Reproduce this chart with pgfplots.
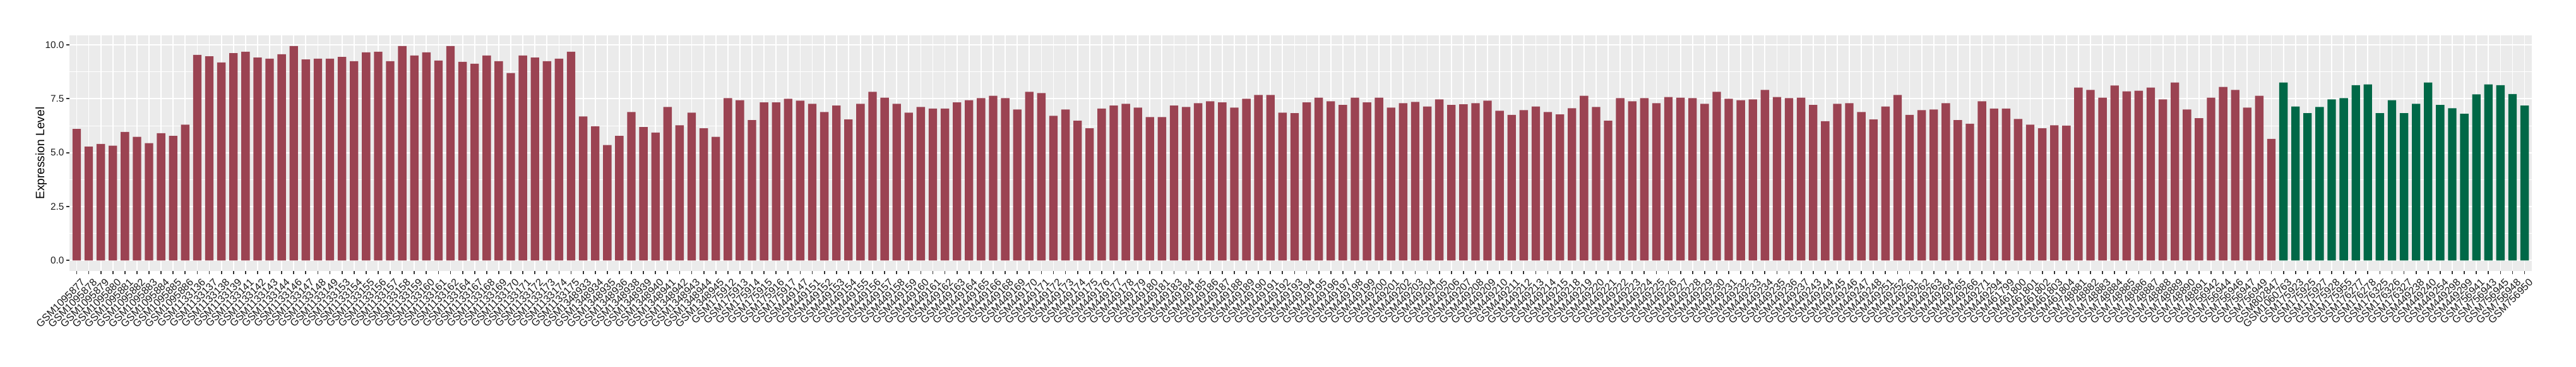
\documentclass[border=0pt]{standalone}
\usepackage{pgfplots}
\pgfplotsset{compat=1.18}
\usepackage{fontspec}
\setmainfont{Liberation Sans}
\definecolor{panelbg}{HTML}{EBEBEB}
\definecolor{barred}{HTML}{9B4352}
\definecolor{bargreen}{HTML}{006847}
\definecolor{grey20}{HTML}{333333}
\definecolor{txt}{HTML}{1A1A1A}
\begin{document}
\begin{tikzpicture}
\path[use as bounding box] (-66pt,-90.6pt) rectangle (2382pt,257.6pt);
\begin{axis}[
 at={(0,0)}, anchor=south west,
 scale only axis, width=2340pt, height=224pt,
 xmin=-0.6, xmax=203.6, ymin=-0.497, ymax=10.437,
 axis background/.style={fill=panelbg},
 axis line style={draw=none},
 xmajorgrids, ymajorgrids, yminorgrids,
 major grid style={white, line width=1.07pt},
 minor grid style={white, line width=0.53pt},
 tick style={grey20, line width=1.07pt},
 tick align=outside, major tick length=2.75pt, minor tick length=0pt,
 tick pos=left,
 ytick={0,2.5,5,7.5,10},
 yticklabels={0.0,2.5,5.0,7.5,10.0},
 minor ytick={1.25,3.75,6.25,8.75},
 yticklabel style={font=\fontsize{9.2}{10}\selectfont, text=txt, inner sep=2.2pt},
 xtick={0,...,203},
 xticklabel style={rotate=45, anchor=north east, font=\fontsize{9.8}{11}\selectfont, text=txt, inner sep=0pt, yshift=-5pt},
 xticklabels={GSM1095877,GSM1095878,GSM1095879,GSM1095880,GSM1095881,GSM1095882,GSM1095883,GSM1095884,GSM1095885,GSM1095886,
GSM1133136,GSM1133137,GSM1133138,GSM1133139,GSM1133141,GSM1133142,GSM1133143,GSM1133144,GSM1133146,GSM1133147,GSM1133148,GSM1133149,GSM1133153,GSM1133154,GSM1133155,GSM1133156,GSM1133157,GSM1133158,GSM1133159,GSM1133160,GSM1133161,GSM1133162,GSM1133164,GSM1133167,GSM1133168,GSM1133169,GSM1133170,GSM1133171,GSM1133172,GSM1133173,GSM1133174,GSM1133175,
GSM1348933,GSM1348934,GSM1348935,GSM1348936,GSM1348938,GSM1348939,GSM1348940,GSM1348941,GSM1348942,GSM1348943,GSM1348944,GSM1348945,
GSM175912,GSM175913,GSM175914,GSM175915,GSM175916,GSM175917,
GSM449147,GSM449151,GSM449152,GSM449153,GSM449154,GSM449155,GSM449156,GSM449157,GSM449158,GSM449159,GSM449160,GSM449161,GSM449162,GSM449163,GSM449164,GSM449165,GSM449166,GSM449168,GSM449169,GSM449170,GSM449171,GSM449172,GSM449173,GSM449174,GSM449175,GSM449176,GSM449177,GSM449178,GSM449179,GSM449180,GSM449181,GSM449183,GSM449184,GSM449185,GSM449186,GSM449187,GSM449188,GSM449189,GSM449190,GSM449191,GSM449192,GSM449193,GSM449194,GSM449195,GSM449196,GSM449197,GSM449198,GSM449199,GSM449200,GSM449201,GSM449202,GSM449203,GSM449204,GSM449205,GSM449206,GSM449207,GSM449208,GSM449209,GSM449210,GSM449211,GSM449212,GSM449213,GSM449214,GSM449215,GSM449218,GSM449219,GSM449220,GSM449221,GSM449222,GSM449223,GSM449224,GSM449225,GSM449226,GSM449227,GSM449228,GSM449229,GSM449230,GSM449231,GSM449232,GSM449233,GSM449234,GSM449235,GSM449236,GSM449237,GSM449243,GSM449244,GSM449245,GSM449246,GSM449247,GSM449248,GSM449251,GSM449252,GSM449261,GSM449262,GSM449263,GSM449264,GSM449265,GSM449266,GSM449271,GSM449294,
GSM461799,GSM461800,GSM461801,GSM461802,GSM461803,GSM461804,
GSM748881,GSM748882,GSM748883,GSM748884,GSM748885,GSM748886,GSM748887,GSM748888,GSM748889,GSM748890,GSM748891,
GSM756942,GSM756944,GSM756946,GSM756947,GSM756949,GSM802847,
GSM1060763,GSM175923,GSM175925,GSM175927,GSM175928,GSM175955,GSM176277,GSM176278,GSM176325,GSM176326,GSM176327,GSM449238,GSM449240,GSM449254,GSM449298,GSM449299,GSM756941,GSM756943,GSM756945,GSM756948,GSM756950},
 ylabel={Expression Level},
 every axis y label/.style={at={(axis description cs:-0.0115,0.5)}, rotate=90, anchor=center, font=\fontsize{11.5}{13}\selectfont},
]
\addplot[ybar, bar width=0.7, bar shift=0pt, fill=barred, draw=none] coordinates {
(0,6.10)(1,5.28)(2,5.40)(3,5.32)(4,5.96)(5,5.73)(6,5.44)(7,5.90)(8,5.78)(9,6.30)
(10,9.53)(11,9.47)(12,9.18)(13,9.61)(14,9.68)(15,9.41)(16,9.36)(17,9.56)(18,9.94)(19,9.32)
(20,9.36)(21,9.36)(22,9.44)(23,9.24)(24,9.65)(25,9.68)(26,9.24)(27,9.94)(28,9.50)(29,9.65)
(30,9.27)(31,9.94)(32,9.21)(33,9.12)(34,9.50)(35,9.24)(36,8.69)(37,9.50)(38,9.41)(39,9.24)
(40,9.36)(41,9.68)(42,6.68)(43,6.22)(44,5.35)(45,5.78)(46,6.88)(47,6.19)(48,5.93)(49,7.12)
(50,6.27)(51,6.85)(52,6.13)(53,5.73)(54,7.53)(55,7.43)(56,6.51)(57,7.33)(58,7.33)(59,7.50)
(60,7.41)(61,7.26)(62,6.88)(63,7.18)(64,6.54)(65,7.26)(66,7.82)(67,7.55)(68,7.26)(69,6.85)
(70,7.12)(71,7.04)(72,7.04)(73,7.33)(74,7.43)(75,7.53)(76,7.64)(77,7.53)(78,7.00)(79,7.82)
(80,7.76)(81,6.71)(82,7.00)(83,6.48)(84,6.13)(85,7.04)(86,7.18)(87,7.26)(88,7.09)(89,6.65)
(90,6.65)(91,7.18)(92,7.12)(93,7.29)(94,7.38)(95,7.33)(96,7.09)(97,7.50)(98,7.67)(99,7.67)
(100,6.85)(101,6.83)(102,7.33)(103,7.55)(104,7.38)(105,7.21)(106,7.55)(107,7.33)(108,7.55)(109,7.09)
(110,7.29)(111,7.35)(112,7.14)(113,7.47)(114,7.21)(115,7.24)(116,7.29)(117,7.41)(118,6.94)(119,6.75)
(120,6.97)(121,7.14)(122,6.88)(123,6.77)(124,7.06)(125,7.64)(126,7.12)(127,6.48)(128,7.53)(129,7.38)
(130,7.53)(131,7.29)(132,7.58)(133,7.55)(134,7.53)(135,7.26)(136,7.82)(137,7.50)(138,7.43)(139,7.47)
(140,7.91)(141,7.58)(142,7.53)(143,7.55)(144,7.21)(145,6.46)(146,7.26)(147,7.29)(148,6.88)(149,6.54)
(150,7.14)(151,7.67)(152,6.75)(153,6.97)(154,7.00)(155,7.29)(156,6.51)(157,6.34)(158,7.38)(159,7.04)
(160,7.04)(161,6.56)(162,6.30)(163,6.13)(164,6.27)(165,6.25)(166,8.02)(167,7.91)(168,7.55)(169,8.11)
(170,7.84)(171,7.87)(172,8.02)(173,7.47)(174,8.25)(175,7.00)(176,6.60)(177,7.55)(178,8.05)(179,7.91)
(180,7.09)(181,7.64)(182,5.64)
};
\addplot[ybar, bar width=0.7, bar shift=0pt, fill=bargreen, draw=none] coordinates {
(183,8.25)(184,7.14)(185,6.83)(186,7.12)(187,7.47)(188,7.53)(189,8.13)(190,8.16)(191,6.83)(192,7.43)
(193,6.83)(194,7.26)(195,8.25)(196,7.21)(197,7.06)(198,6.80)(199,7.70)(200,8.16)(201,8.13)(202,7.72)
(203,7.18)
};
\end{axis}
\end{tikzpicture}
\end{document}
